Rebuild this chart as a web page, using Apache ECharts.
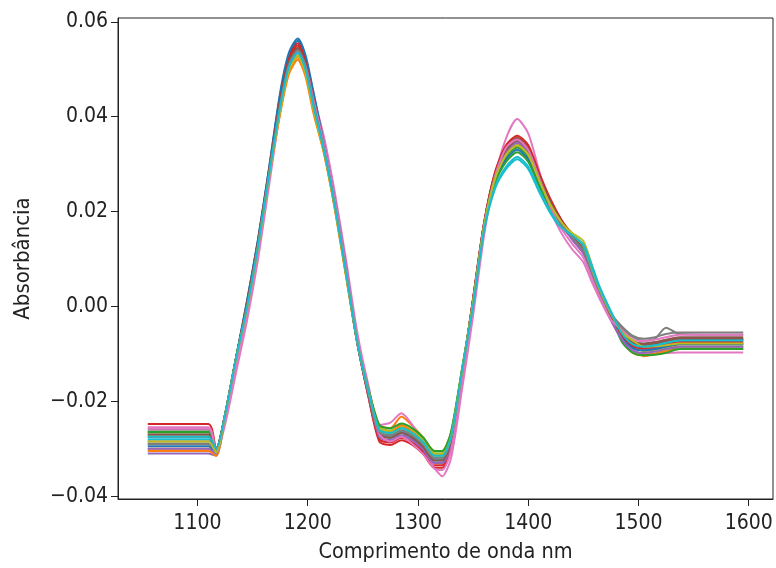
<!DOCTYPE html>
<html><head><meta charset="utf-8">
<script src="https://cdn.jsdelivr.net/npm/echarts@6/dist/echarts.min.js"></script>
<style>html,body{margin:0;padding:0;background:#fff}#c{width:776px;height:568px}</style>
</head><body><div id="c"></div>
<script>
const wavelengths = [1055,1110,1117,1125,1135,1145,1155,1165,1175,1183,1191,1198,1205,1215,1225,1235,1245,1255,1265,1275,1285,1295,1305,1315,1322,1330,1340,1350,1360,1370,1380,1390,1400,1410,1420,1430,1440,1450,1458,1465,1475,1485,1495,1505,1515,1525,1537,1595];
const xTicks = [1100,1200,1300,1400,1500,1600];
const yTicks = [-0.04,-0.02,0,0.02,0.04,0.06];
const xTitle = 'Comprimento de onda nm';
const yTitle = 'Absorbância';
const colors = ['#1f77b4','#ff7f0e','#2ca02c','#d62728','#9467bd','#8c564b','#e377c2','#7f7f7f','#bcbd22','#17becf'];

const s00 = [-0.0265,-0.0265,-0.0300,-0.0230,-0.0110,0.0010,0.0140,0.0290,0.0445,0.0530,0.0560,0.0525,0.0450,0.0340,0.0220,0.0080,-0.0075,-0.0177,-0.0260,-0.0267,-0.0257,-0.0267,-0.0287,-0.0315,-0.0315,-0.0275,-0.0137,0.0013,0.0173,0.0277,0.0330,0.0350,0.0330,0.0273,0.0221,0.0179,0.0145,0.0118,0.0070,0.0030,-0.0020,-0.0055,-0.0078,-0.0083,-0.0080,-0.0075,-0.0070,-0.0070];
const s01 = [-0.0300,-0.0300,-0.0310,-0.0232,-0.0112,-0.0008,0.0122,0.0272,0.0410,0.0495,0.0525,0.0490,0.0415,0.0322,0.0202,0.0062,-0.0075,-0.0172,-0.0250,-0.0257,-0.0232,-0.0252,-0.0277,-0.0305,-0.0305,-0.0265,-0.0132,0.0010,0.0170,0.0270,0.0320,0.0340,0.0320,0.0265,0.0215,0.0175,0.0145,0.0118,0.0070,0.0030,-0.0020,-0.0065,-0.0090,-0.0105,-0.0100,-0.0090,-0.0080,-0.0080];
const s02 = [-0.0270,-0.0270,-0.0300,-0.0229,-0.0109,0.0003,0.0133,0.0283,0.0430,0.0515,0.0545,0.0510,0.0435,0.0333,0.0213,0.0073,-0.0075,-0.0175,-0.0255,-0.0262,-0.0252,-0.0262,-0.0282,-0.0310,-0.0310,-0.0270,-0.0135,0.0008,0.0168,0.0266,0.0315,0.0335,0.0315,0.0261,0.0212,0.0173,0.0145,0.0118,0.0070,0.0030,-0.0020,-0.0070,-0.0093,-0.0100,-0.0100,-0.0095,-0.0085,-0.0085];
const s03 = [-0.0248,-0.0248,-0.0300,-0.0231,-0.0111,0.0008,0.0138,0.0288,0.0440,0.0525,0.0555,0.0520,0.0445,0.0338,0.0218,0.0078,-0.0075,-0.0188,-0.0280,-0.0287,-0.0277,-0.0287,-0.0307,-0.0335,-0.0335,-0.0295,-0.0148,0.0015,0.0175,0.0281,0.0335,0.0355,0.0335,0.0277,0.0224,0.0181,0.0148,0.0118,0.0070,0.0030,-0.0020,-0.0057,-0.0080,-0.0085,-0.0082,-0.0077,-0.0072,-0.0072];
const s04 = [-0.0310,-0.0310,-0.0315,-0.0235,-0.0112,0.0000,0.0130,0.0280,0.0425,0.0510,0.0540,0.0505,0.0430,0.0330,0.0210,0.0070,-0.0078,-0.0185,-0.0275,-0.0282,-0.0272,-0.0282,-0.0302,-0.0330,-0.0330,-0.0290,-0.0145,0.0013,0.0173,0.0277,0.0330,0.0350,0.0330,0.0273,0.0221,0.0179,0.0142,0.0113,0.0065,0.0025,-0.0025,-0.0063,-0.0086,-0.0091,-0.0088,-0.0083,-0.0078,-0.0078];
const s05 = [-0.0285,-0.0285,-0.0305,-0.0230,-0.0110,-0.0003,0.0127,0.0277,0.0420,0.0505,0.0535,0.0500,0.0425,0.0327,0.0207,0.0067,-0.0075,-0.0180,-0.0265,-0.0272,-0.0262,-0.0272,-0.0292,-0.0320,-0.0320,-0.0280,-0.0140,0.0015,0.0175,0.0281,0.0335,0.0355,0.0335,0.0277,0.0224,0.0181,0.0148,0.0120,0.0072,0.0032,-0.0018,-0.0050,-0.0073,-0.0078,-0.0075,-0.0070,-0.0065,-0.0065];
const s06 = [-0.0255,-0.0255,-0.0310,-0.0250,-0.0140,-0.0030,0.0100,0.0255,0.0410,0.0500,0.0535,0.0510,0.0445,0.0355,0.0235,0.0095,-0.0055,-0.0165,-0.0250,-0.0245,-0.0225,-0.0250,-0.0290,-0.0340,-0.0358,-0.0320,-0.0175,-0.0020,0.0150,0.0275,0.0355,0.0395,0.0365,0.0285,0.0205,0.0155,0.0120,0.0093,0.0050,0.0015,-0.0030,-0.0070,-0.0092,-0.0100,-0.0100,-0.0098,-0.0097,-0.0097];
const s07 = [-0.0260,-0.0260,-0.0300,-0.0229,-0.0109,0.0003,0.0133,0.0283,0.0430,0.0515,0.0545,0.0510,0.0435,0.0333,0.0213,0.0073,-0.0075,-0.0180,-0.0265,-0.0272,-0.0262,-0.0272,-0.0292,-0.0320,-0.0320,-0.0280,-0.0140,0.0012,0.0172,0.0274,0.0325,0.0345,0.0325,0.0269,0.0218,0.0177,0.0145,0.0118,0.0070,0.0030,-0.0015,-0.0045,-0.0065,-0.0072,-0.0068,-0.0045,-0.0058,-0.0060];
const s08 = [-0.0290,-0.0290,-0.0312,-0.0232,-0.0110,-0.0005,0.0125,0.0275,0.0415,0.0500,0.0530,0.0495,0.0420,0.0325,0.0205,0.0065,-0.0075,-0.0175,-0.0255,-0.0262,-0.0252,-0.0262,-0.0282,-0.0310,-0.0310,-0.0270,-0.0135,0.0010,0.0170,0.0270,0.0320,0.0340,0.0320,0.0265,0.0215,0.0180,0.0155,0.0138,0.0085,0.0035,-0.0015,-0.0060,-0.0080,-0.0095,-0.0092,-0.0088,-0.0085,-0.0085];
const s09 = [-0.0280,-0.0280,-0.0305,-0.0230,-0.0110,0.0000,0.0130,0.0280,0.0425,0.0510,0.0540,0.0505,0.0430,0.0330,0.0210,0.0070,-0.0075,-0.0180,-0.0265,-0.0272,-0.0262,-0.0272,-0.0292,-0.0320,-0.0320,-0.0280,-0.0140,0.0000,0.0160,0.0249,0.0290,0.0310,0.0290,0.0241,0.0197,0.0165,0.0150,0.0131,0.0085,0.0040,-0.0010,-0.0055,-0.0078,-0.0083,-0.0080,-0.0075,-0.0070,-0.0070];
const s10 = [-0.0295,-0.0295,-0.0310,-0.0231,-0.0108,0.0012,0.0142,0.0292,0.0450,0.0535,0.0565,0.0530,0.0455,0.0342,0.0222,0.0082,-0.0072,-0.0182,-0.0270,-0.0277,-0.0267,-0.0277,-0.0297,-0.0325,-0.0325,-0.0285,-0.0142,0.0007,0.0167,0.0263,0.0310,0.0330,0.0310,0.0257,0.0209,0.0171,0.0142,0.0116,0.0068,0.0028,-0.0022,-0.0065,-0.0088,-0.0093,-0.0090,-0.0085,-0.0080,-0.0080];
const s11 = [-0.0305,-0.0305,-0.0315,-0.0233,-0.0113,-0.0010,0.0120,0.0270,0.0405,0.0490,0.0520,0.0485,0.0410,0.0320,0.0200,0.0060,-0.0077,-0.0178,-0.0260,-0.0267,-0.0250,-0.0265,-0.0287,-0.0315,-0.0315,-0.0275,-0.0137,0.0012,0.0172,0.0273,0.0325,0.0345,0.0325,0.0269,0.0218,0.0177,0.0145,0.0116,0.0068,0.0028,-0.0022,-0.0070,-0.0098,-0.0103,-0.0100,-0.0095,-0.0090,-0.0090];
const s12 = [-0.0265,-0.0265,-0.0300,-0.0230,-0.0110,0.0000,0.0130,0.0280,0.0425,0.0510,0.0540,0.0505,0.0430,0.0330,0.0210,0.0070,-0.0075,-0.0172,-0.0250,-0.0257,-0.0247,-0.0257,-0.0277,-0.0305,-0.0305,-0.0265,-0.0132,0.0005,0.0165,0.0260,0.0305,0.0325,0.0305,0.0253,0.0206,0.0169,0.0145,0.0118,0.0070,0.0030,-0.0020,-0.0075,-0.0098,-0.0103,-0.0102,-0.0098,-0.0090,-0.0090];
const s13 = [-0.0275,-0.0275,-0.0305,-0.0230,-0.0110,0.0005,0.0135,0.0285,0.0435,0.0520,0.0550,0.0515,0.0440,0.0335,0.0215,0.0075,-0.0075,-0.0190,-0.0285,-0.0292,-0.0282,-0.0292,-0.0312,-0.0340,-0.0340,-0.0300,-0.0150,0.0017,0.0177,0.0284,0.0340,0.0360,0.0340,0.0281,0.0227,0.0183,0.0150,0.0121,0.0072,0.0032,-0.0018,-0.0060,-0.0083,-0.0088,-0.0085,-0.0080,-0.0075,-0.0075];
const s14 = [-0.0300,-0.0300,-0.0310,-0.0232,-0.0112,-0.0003,0.0127,0.0277,0.0420,0.0505,0.0535,0.0500,0.0425,0.0327,0.0207,0.0067,-0.0078,-0.0185,-0.0275,-0.0282,-0.0272,-0.0282,-0.0302,-0.0330,-0.0330,-0.0290,-0.0145,0.0012,0.0172,0.0273,0.0325,0.0345,0.0325,0.0269,0.0218,0.0177,0.0140,0.0111,0.0062,0.0022,-0.0028,-0.0070,-0.0093,-0.0098,-0.0095,-0.0090,-0.0085,-0.0085];
const s15 = [-0.0270,-0.0270,-0.0300,-0.0229,-0.0109,0.0003,0.0133,0.0283,0.0430,0.0515,0.0545,0.0510,0.0435,0.0333,0.0213,0.0073,-0.0075,-0.0182,-0.0270,-0.0277,-0.0267,-0.0277,-0.0297,-0.0325,-0.0325,-0.0285,-0.0142,0.0013,0.0173,0.0277,0.0330,0.0350,0.0330,0.0273,0.0221,0.0179,0.0146,0.0119,0.0071,0.0031,-0.0019,-0.0053,-0.0076,-0.0081,-0.0078,-0.0073,-0.0068,-0.0068];
const s16 = [-0.0258,-0.0258,-0.0305,-0.0240,-0.0125,-0.0015,0.0115,0.0268,0.0418,0.0505,0.0538,0.0507,0.0438,0.0340,0.0222,0.0082,-0.0065,-0.0175,-0.0270,-0.0285,-0.0275,-0.0290,-0.0312,-0.0342,-0.0345,-0.0305,-0.0160,0.0000,0.0160,0.0275,0.0335,0.0352,0.0330,0.0270,0.0210,0.0165,0.0132,0.0103,0.0058,0.0020,-0.0028,-0.0050,-0.0070,-0.0073,-0.0070,-0.0065,-0.0060,-0.0060];
const s17 = [-0.0290,-0.0290,-0.0305,-0.0230,-0.0110,0.0000,0.0130,0.0280,0.0425,0.0510,0.0540,0.0505,0.0430,0.0330,0.0210,0.0070,-0.0075,-0.0180,-0.0265,-0.0272,-0.0262,-0.0272,-0.0292,-0.0320,-0.0320,-0.0280,-0.0140,0.0010,0.0170,0.0270,0.0320,0.0340,0.0320,0.0265,0.0215,0.0175,0.0145,0.0118,0.0070,0.0030,-0.0015,-0.0042,-0.0062,-0.0068,-0.0065,-0.0058,-0.0055,-0.0055];
const s18 = [-0.0285,-0.0285,-0.0308,-0.0231,-0.0111,-0.0006,0.0124,0.0274,0.0413,0.0498,0.0528,0.0493,0.0418,0.0324,0.0204,0.0064,-0.0075,-0.0178,-0.0260,-0.0267,-0.0257,-0.0267,-0.0287,-0.0315,-0.0315,-0.0275,-0.0137,0.0010,0.0170,0.0270,0.0320,0.0340,0.0320,0.0265,0.0215,0.0178,0.0152,0.0128,0.0078,0.0035,-0.0015,-0.0055,-0.0072,-0.0085,-0.0084,-0.0082,-0.0078,-0.0078];
const s19 = [-0.0275,-0.0275,-0.0300,-0.0230,-0.0110,-0.0003,0.0127,0.0277,0.0420,0.0505,0.0535,0.0500,0.0425,0.0327,0.0207,0.0067,-0.0075,-0.0178,-0.0260,-0.0267,-0.0257,-0.0267,-0.0287,-0.0315,-0.0315,-0.0275,-0.0135,0.0002,0.0162,0.0252,0.0295,0.0315,0.0295,0.0245,0.0200,0.0167,0.0150,0.0128,0.0080,0.0038,-0.0012,-0.0057,-0.0080,-0.0085,-0.0082,-0.0077,-0.0072,-0.0072];

const spectra = [s00,s01,s02,s03,s04,s05,s06,s07,s08,s09,s10,s11,s12,s13,s14,s15,s16,s17,s18,s19];

const FONT = "'DejaVu Sans Condensed', 'Liberation Sans Narrow', 'DejaVu Sans', sans-serif";
const chart = echarts.init(document.getElementById('c'), null, {renderer: 'canvas'});
const axisColor = '#222';
chart.setOption({
  animation: false,
  backgroundColor: '#fff',
  grid: {left: 118, right: 3, top: 18, bottom: 68, show: true, borderColor: axisColor, borderWidth: 1, backgroundColor: 'transparent', containLabel: false},
  xAxis: {
    type: 'value', min: 1028, max: 1622,
    name: xTitle, nameLocation: 'middle', nameGap: 42,
    nameTextStyle: {fontFamily: FONT, fontSize: 21.5, color: '#222'},
    axisLine: {show: true, onZero: false, lineStyle: {color: axisColor, width: 1}},
    axisTick: {show: true, length: 7, customValues: xTicks, lineStyle: {color: axisColor}},
    axisLabel: {customValues: xTicks, margin: 14, fontFamily: FONT, fontSize: 21, color: '#222',
      formatter: v => String(Math.round(v))},
    splitLine: {show: false}
  },
  yAxis: {
    type: 'value', min: -0.0406, max: 0.0608,
    name: yTitle, nameLocation: 'middle', nameGap: 84, nameRotate: 90,
    nameTextStyle: {fontFamily: FONT, fontSize: 22, color: '#222'},
    axisLine: {show: true, onZero: false, lineStyle: {color: axisColor, width: 1}},
    axisTick: {show: true, length: 7, customValues: yTicks, lineStyle: {color: axisColor}},
    axisLabel: {customValues: yTicks, margin: 10, fontFamily: FONT, fontSize: 21, color: '#222',
      formatter: v => (v < -1e-9 ? '\u2212' : '') + Math.abs(v).toFixed(2)},
    splitLine: {show: false}
  },
  series: spectra.map((s, k) => ({
    type: 'line',
    name: 'Amostra ' + (k + 1),
    data: wavelengths.map((w, i) => [w, s[i]]),
    showSymbol: false, symbol: 'none',
    smooth: 0.25,
    lineStyle: {width: 2, color: colors[k % colors.length]},
    itemStyle: {color: colors[k % colors.length]},
    silent: true,
    emphasis: {disabled: true}
  }))
});
</script>
</body></html>
